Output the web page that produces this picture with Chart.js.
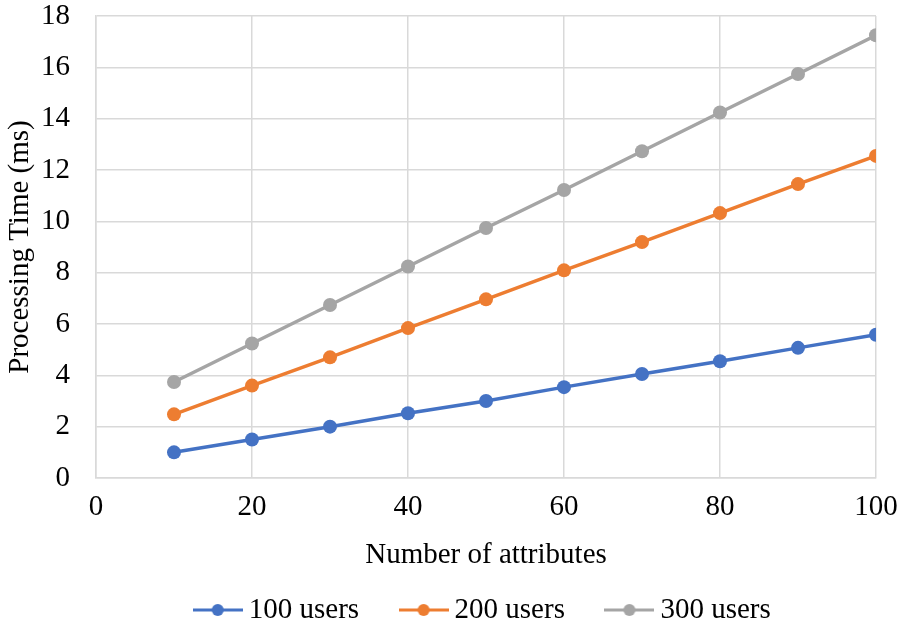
<!DOCTYPE html>
<html>
<head>
<meta charset="utf-8">
<script src="https://cdn.jsdelivr.net/npm/chart.js@4"></script>
<style>
  html, body { margin: 0; padding: 0; background: #fff; }
  #wrap { width: 900px; height: 625px; }
</style>
</head>
<body>
<div id="wrap"><canvas id="chart" width="900" height="625"></canvas></div>
<script>
const attributes = [10, 20, 30, 40, 50, 60, 70, 80, 90, 100]
const users100 = [1.0, 1.5, 2.0, 2.52, 3.0, 3.54, 4.05, 4.55, 5.07, 5.58]
const users200 = [2.48, 3.6, 4.7, 5.84, 6.96, 8.09, 9.19, 10.32, 11.45, 12.55]
const users300 = [3.74, 5.24, 6.74, 8.24, 9.74, 11.22, 12.73, 14.24, 15.74, 17.25]
const seriesNames = ['100 users', '200 users', '300 users']
const colors = ['#4472C4', '#ED7D31', '#A5A5A5']

const font = 'Liberation Serif'
const fontSize = 29

function toPoints(values) {
    return attributes.map((x, i) => ({ x: x, y: values[i] }))
}

// line-with-dot marker for the legend (like Excel)
function legendMarker(color) {
    const c = document.createElement('canvas')
    c.width = 50
    c.height = 16
    const g = c.getContext('2d')
    g.strokeStyle = color
    g.lineWidth = 3
    g.beginPath()
    g.moveTo(0, 8)
    g.lineTo(50, 8)
    g.stroke()
    g.fillStyle = color
    g.beginPath()
    g.arc(25, 8, 6, 0, Math.PI * 2)
    g.fill()
    return c
}

const datasets = [users100, users200, users300].map((vals, i) => ({
    label: seriesNames[i],
    data: toPoints(vals),
    borderColor: colors[i],
    backgroundColor: colors[i],
    borderWidth: 3.5,
    pointRadius: 7,
    pointHoverRadius: 7,
    pointBorderWidth: 0,
    fill: false,
    tension: 0
}))

const ctx = document.getElementById('chart')
new Chart(ctx, {
    type: 'line',
    data: { datasets: datasets },
    options: {
        responsive: false,
        devicePixelRatio: 1,
        animation: false,
        layout: { padding: { left: 0, right: 0, top: 0, bottom: -9.5 } },
        scales: {
            x: {
                type: 'linear',
                min: 0,
                max: 100,
                ticks: { stepSize: 20, color: '#000', font: { family: font, size: fontSize }, padding: 12 },
                grid: { color: '#d9d9d9', lineWidth: 1.5, drawTicks: false },
                border: { color: '#d9d9d9', width: 1.5 },
                title: { display: true, text: 'Number of attributes', color: '#000', font: { family: font, size: fontSize }, padding: { top: 0, bottom: -25 } },
                afterFit: (scale) => {
                    scale.height = 69.5
                    scale.paddingRight = 24
                }
            },
            y: {
                min: 0,
                max: 18,
                ticks: { stepSize: 2, color: '#000', font: { family: font, size: fontSize }, padding: 26 },
                grid: { color: '#d9d9d9', lineWidth: 1.5, drawTicks: false },
                border: { color: '#d9d9d9', width: 1.5 },
                title: { display: true, text: 'Processing Time (ms)', color: '#000', font: { family: font, size: fontSize }, padding: { top: 3, bottom: 0 } },
                afterFit: (scale) => {
                    scale.width = 96
                    scale.paddingTop = 16
                }
            }
        },
        plugins: {
            tooltip: { enabled: false },
            legend: {
                position: 'bottom',
                fullSize: false,
                labels: {
                    color: '#000',
                    font: { family: font, size: fontSize },
                    usePointStyle: true,
                    boxWidth: 33,
                    pointStyleWidth: 33,
                    padding: 48,
                    generateLabels: (chart) => chart.data.datasets.map((ds, i) => ({
                        text: ds.label,
                        fillStyle: ds.borderColor,
                        strokeStyle: ds.borderColor,
                        pointStyle: legendMarker(ds.borderColor),
                        lineWidth: 0,
                        datasetIndex: i,
                        hidden: false
                    }))
                }
            }
        }
    }
})
</script>
</body>
</html>
